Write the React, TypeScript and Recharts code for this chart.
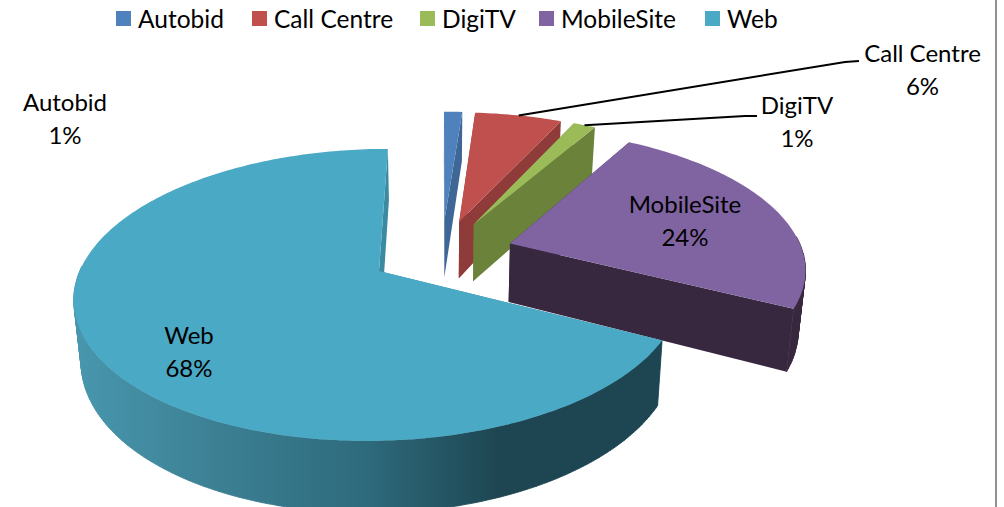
import { Legend, Pie, PieChart } from "recharts";

const CHANNELS = ["Autobid", "Call Centre", "DigiTV", "MobileSite", "Web"];
const SHARES = [1.2, 5.7, 1.45, 24.15, 67.5];

const TOP_COLORS = ["#4f81bd", "#c0504d", "#9bbb59", "#8064a2", "#4aa9c4"];
const FACE_COLORS = ["#3e6797", "#8e3b39", "#6b823b", "#37283f", "#3a8aa2"];
const WALL_COLORS = ["#3e6797", "#8e3b39", "#6b823b", "#37283f", "url(#webWall)"];

// left edge of each legend entry
const LEGEND_SLOTS = [116, 252, 420, 539, 705];
// centre of each data label
const LABEL_SPOTS = [
  [65, 111],
  [922.5, 62],
  [797, 114],
  [685, 213],
  [189, 344],
];
// where the leader line of a label ends, only two of them have one
const LEADER_ENDS: Record<number, number[][]> = {
  1: [[845, 62], [859, 61]],
  2: [[745, 116], [757, 116]],
};

const WIDTH = 1004;
const HEIGHT = 507;
const CX = 441.7;
const CY = 253;
const RADIUS = 293;
const EXPLODE = 72;
const TILT = 0.465; // squash of the pie plane
const PERSP = 0.00055;
const DEPTH = 59;
const SHRINK = 0.02;
const RAD = Math.PI / 180;
const FONT = "Lato, sans-serif";

const rows = CHANNELS.map((name, i) => ({
  name,
  share: SHARES[i],
  fill: TOP_COLORS[i],
}));

// pie plane -> screen
function project(u: number, v: number) {
  const w = 1 + PERSP * v;
  return { x: CX + u / w, y: CY - (TILT * v) / w, w };
}

function lower(p: { x: number; y: number; w: number }) {
  return { x: CX + (p.x - CX) * (1 - SHRINK), y: p.y + DEPTH / p.w, w: p.w };
}

function toPath(points: { x: number; y: number }[]) {
  return "M" + points.map((p) => `${p.x.toFixed(1)},${p.y.toFixed(1)}`).join("L") + "Z";
}

function PieSlice(props: any) {
  const { startAngle, endAngle, outerRadius, index, fill } = props;
  const mid = ((startAngle + endAngle) / 2) * RAD;
  const ox = EXPLODE * Math.cos(mid);
  const oy = EXPLODE * Math.sin(mid);
  const apex = project(ox, oy);

  const steps = Math.max(2, Math.ceil(Math.abs(startAngle - endAngle)));
  const rim = [];
  const wall: string[] = [];
  for (let s = 0; s <= steps; s++) {
    const a = (startAngle + ((endAngle - startAngle) * s) / steps) * RAD;
    const pt = project(ox + outerRadius * Math.cos(a), oy + outerRadius * Math.sin(a));
    if (s > 0 && Math.sin(a) < 0.05) {
      const prev = rim[rim.length - 1];
      wall.push(toPath([prev, pt, lower(pt), lower(prev)]));
    }
    rim.push(pt);
  }
  const first = rim[0];
  const last = rim[rim.length - 1];
  const face = FACE_COLORS[index];

  return (
    <g>
      {index === 4 && (
        <defs>
          <linearGradient id="webWall" x1="0" x2="1" y1="0" y2="0">
            <stop offset="0" stopColor="#4897ae" />
            <stop offset="0.25" stopColor="#3c7f93" />
            <stop offset="0.5" stopColor="#2d6a7c" />
            <stop offset="0.72" stopColor="#1e4652" />
            <stop offset="1" stopColor="#1e4652" />
          </linearGradient>
        </defs>
      )}
      <path d={toPath([apex, first, lower(first), lower(apex)])} fill={face} />
      <path d={toPath([apex, last, lower(last), lower(apex)])} fill={face} />
      {wall.length > 0 && (
        <path d={wall.join("")} fill={WALL_COLORS[index]} stroke={WALL_COLORS[index]} strokeWidth={0.8} />
      )}
      <path d={toPath([apex, ...rim])} fill={fill} />
    </g>
  );
}

function SliceLabel(props: any) {
  const { index, name, percent, midAngle, outerRadius } = props;
  const [x, y] = LABEL_SPOTS[index];
  const mid = midAngle * RAD;
  const leader = LEADER_ENDS[index];
  const from = project(
    (EXPLODE + outerRadius) * Math.cos(mid),
    (EXPLODE + outerRadius) * Math.sin(mid),
  );
  return (
    <g>
      {leader && (
        <polyline
          points={[[from.x, from.y], ...leader].map((p) => p.join(",")).join(" ")}
          fill="none"
          stroke="#000"
          strokeWidth={2}
        />
      )}
      <text x={x} y={y} textAnchor="middle" fontFamily={FONT} fontSize={24} fill="#000">
        {name}
      </text>
      <text x={x} y={y + 32.5} textAnchor="middle" fontFamily={FONT} fontSize={24} fill="#000">
        {`${Math.round(percent * 100)}%`}
      </text>
    </g>
  );
}

function LegendRow({ payload }: any) {
  return (
    <div style={{ position: "relative", height: 32, fontFamily: FONT, fontSize: 24.5, color: "#000" }}>
      {(payload ?? []).map((entry: any, i: number) => (
        <div
          key={entry.value}
          style={{ position: "absolute", left: LEGEND_SLOTS[i] - LEGEND_SLOTS[0], top: 0, display: "flex", alignItems: "center", gap: 7, whiteSpace: "nowrap" }}
        >
          <span style={{ width: 15, height: 15, background: entry.color, display: "block" }} />
          <span>{entry.value}</span>
        </div>
      ))}
    </div>
  );
}

export default function App() {
  return (
    <div style={{ position: "absolute", left: 0, top: 0, width: WIDTH, height: HEIGHT, background: "#fff", overflow: "hidden" }}>
      <PieChart width={WIDTH} height={HEIGHT} margin={{ top: 0, right: 0, bottom: 0, left: 0 }}>
        <Legend
          verticalAlign="top"
          align="left"
          content={<LegendRow />}
          wrapperStyle={{ left: LEGEND_SLOTS[0], top: 4, width: 700 }}
        />
        <Pie
          data={rows}
          dataKey="share"
          nameKey="name"
          cx={CX}
          cy={CY}
          innerRadius={0}
          outerRadius={RADIUS}
          startAngle={90}
          endAngle={-270}
          stroke="none"
          shape={PieSlice}
          label={SliceLabel}
          labelLine={false}
          isAnimationActive={false}
        />
      </PieChart>
      <div style={{ position: "absolute", left: 995, top: 0, width: 2, height: HEIGHT, background: "#909090" }} />
    </div>
  );
}
